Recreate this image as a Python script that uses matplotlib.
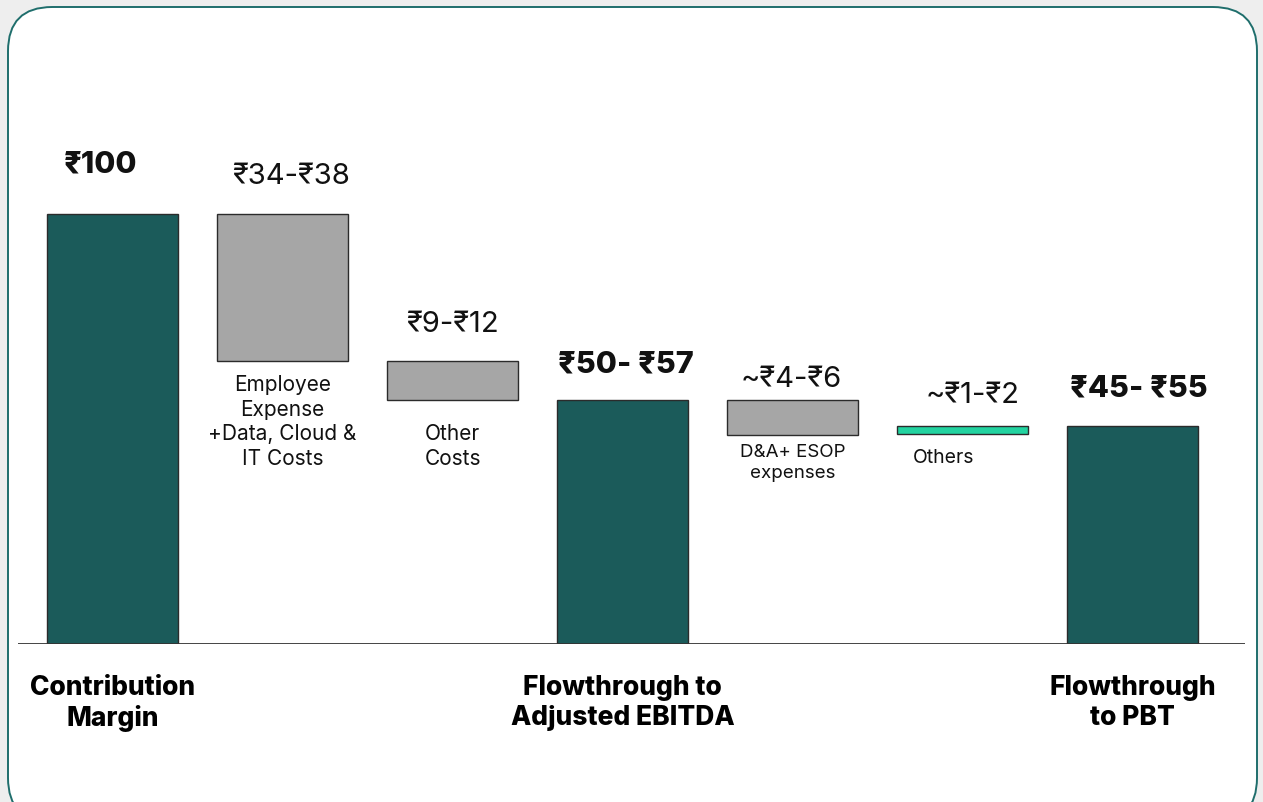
import matplotlib.pyplot as plt
import numpy as np
from matplotlib.patches import FancyBboxPatch

plt.rcParams['font.family'] = ['Inter', 'DejaVu Sans']

# bars (units: contribution margin = 100)
steps = ['cm', 'emp', 'other', 'ebitda', 'da', 'others', 'pbt']
lows = [0, 65.8, 56.7, 0, 48.6, 48.8, 0]
highs = [100, 100, 65.8, 56.7, 56.7, 50.7, 50.7]
kinds = ['total', 'cost', 'cost', 'total', 'cost', 'minor', 'total']
value_labels = ['₹100', '₹34-₹38', '₹9-₹12', '₹50- ₹57', '~₹4-₹6', '~₹1-₹2', '₹45- ₹55']
bold_values = [True, False, False, True, False, False, True]
notes = ['', 'Employee\nExpense\n+Data, Cloud &\nIT Costs', 'Other\nCosts', '',
         'D&A+ ESOP\nexpenses', 'Others', '']
category_labels = {0: 'Contribution\nMargin', 3: 'Flowthrough to\nAdjusted EBITDA', 6: 'Flowthrough\nto PBT'}

colors = {'total': '#1b5b5a', 'cost': '#a6a6a6', 'minor': '#22d3a0'}

W, H = 1263, 802
fig = plt.figure(figsize=(W / 100, H / 100), dpi=100)
fig.patch.set_facecolor('#eeeeee')

frame = FancyBboxPatch((8 / W, -20 / H), 1249 / W, (795 + 20) / H,
                       boxstyle='round,pad=0,rounding_size=0.035',
                       transform=fig.transFigure, facecolor='white',
                       edgecolor='#1f6e6c', linewidth=1.4, mutation_aspect=W / H,
                       zorder=-1)
fig.patches.append(frame)

# axes: baseline at y=644px, 4.3 px per unit; bar centres at 112.5 + 170*i px
ax = fig.add_axes([18 / W, (H - 644) / H, (1245 - 18) / W, (644 - 100) / H])
ax.set_facecolor('none')
ax.set_xlim((18 - 112.5) / 170, (1245 - 112.5) / 170)
ax.set_ylim(0, 544 / 4.3)

x = np.arange(len(steps))
for i in x:
    ax.bar(i, highs[i] - lows[i], bottom=lows[i], width=131 / 170,
           color=colors[kinds[i]], edgecolor='#2b2b2b', linewidth=1, zorder=2)

label_gap = [11.4, 8.8, 8.6, 8.4, 4.7, 7.0, 8.8]
label_dx = [-0.07, 0.05, 0, 0.02, -0.01, 0.06, 0.04]
for i in x:
    ax.text(i + label_dx[i], highs[i] + label_gap[i], value_labels[i],
            ha='center', va='center', fontsize=22 if bold_values[i] else 21,
            fontweight='heavy' if bold_values[i] else 'normal', color='#111111')

note_gap = [0, 3.2, 5.6, 0, 2.1, 3.4, 0]
note_size = [15, 15, 15, 15, 13.5, 14, 15]
note_dx = [0, 0, 0, 0, 0, -0.11, 0]
for i in x:
    if notes[i]:
        ax.text(i + note_dx[i], lows[i] - note_gap[i], notes[i], ha='center', va='top',
                fontsize=note_size[i], color='#111111', linespacing=1.3)

ax.axhline(0, color='#333333', linewidth=2, zorder=3)

ax.set_xticks(list(category_labels.keys()))
ax.set_xticklabels(list(category_labels.values()), fontsize=19, fontweight='heavy',
                   linespacing=1.2)
ax.tick_params(axis='x', length=0, pad=22)
ax.set_yticks([])
for s in ax.spines.values():
    s.set_visible(False)

fig.savefig('out.png', dpi=100, facecolor=fig.get_facecolor())
